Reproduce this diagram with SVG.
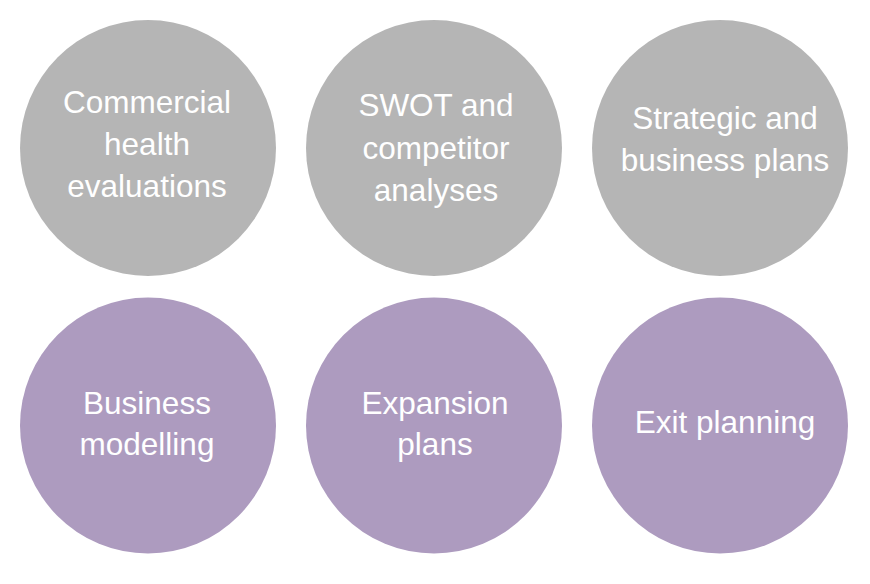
<svg xmlns="http://www.w3.org/2000/svg" width="870" height="584" viewBox="0 0 870 584">
<style>
.g{fill:#b5b5b5}
.p{fill:#ad9bbf}
text{fill:#fff;font-family:"Liberation Sans",Arial,sans-serif;font-size:31.5px;text-anchor:middle}
</style>
<rect width="870" height="584" fill="#fff"/>
<g id="commercial"><circle class="g" cx="148" cy="148" r="128"/><text x="147" y="113">Commercial</text><text x="147" y="155">health</text><text x="147" y="197">evaluations</text></g>
<g id="swot"><circle class="g" cx="434" cy="148" r="128"/><text x="436" y="116">SWOT and</text><text x="436" y="159">competitor</text><text x="436" y="201">analyses</text></g>
<g id="strategic"><circle class="g" cx="720" cy="148" r="128"/><text x="725" y="129">Strategic and</text><text x="725" y="171">business plans</text></g>
<g id="modelling"><circle class="p" cx="148" cy="425.5" r="128"/><text x="147" y="414">Business</text><text x="147" y="455">modelling</text></g>
<g id="expansion"><circle class="p" cx="434" cy="425.5" r="128"/><text x="435" y="414">Expansion</text><text x="435" y="455">plans</text></g>
<g id="exit"><circle class="p" cx="720" cy="425.5" r="128"/><text x="725" y="433">Exit planning</text></g>
<g id="connectors"/>
</svg>
